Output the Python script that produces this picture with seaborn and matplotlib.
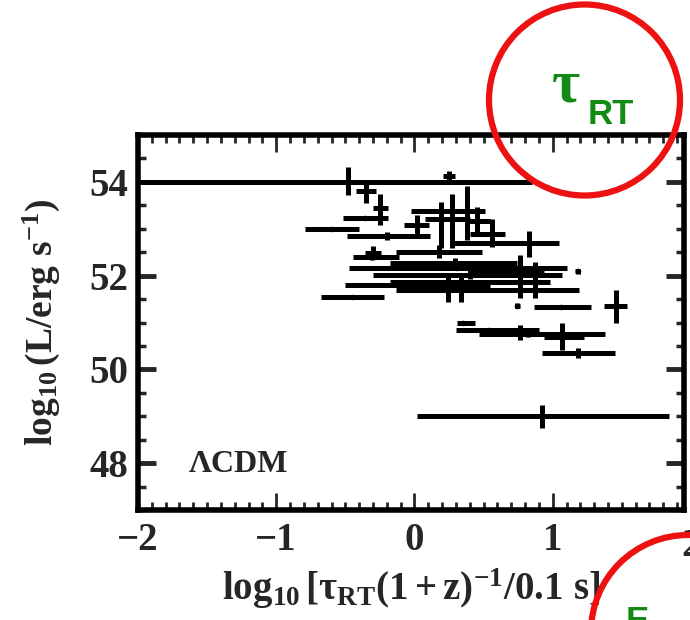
import matplotlib
matplotlib.use("Agg")
import matplotlib.pyplot as plt
import matplotlib.transforms as mtransforms
from matplotlib.patches import Circle
import seaborn as sns
import numpy as np
import pandas as pd

# ---- data ----
x_val = [-0.48, 0.25, -0.35, -0.25, -0.36, -0.60, -0.20, 0.02, 0.195, 0.27,
         0.38, 0.45, 0.56, 0.83, 0.18, -0.30, -0.31, 0.29, 0.76, 0.87,
         0.31, 0.40, 0.24, 0.04, 0.34, -0.45, 1.18, 0.745, 1.06, 1.46,
         0.35, 0.54, 0.82, 0.76, 1.07, 1.18, 0.925]
y_val = [54.00, 54.12, 53.80, 53.44, 53.24, 52.99, 52.84, 53.09, 53.37, 53.20,
         53.37, 53.16, 52.88, 52.69, 52.51, 52.49, 52.39, 52.28, 52.13, 52.02,
         52.17, 52.02, 51.87, 51.81, 51.70, 51.55, 52.09, 51.36, 51.34, 51.36,
         50.99, 50.84, 50.76, 50.84, 50.69, 50.35, 49.00]
x_err_lo = [1.80, 0.04, 0.07, 0.05, 0.16, 0.195, 0.29, 0.094, 0.217, 0.195,
            0.12, 0.087, 0.16, 0.564, 0.31, 0.06, 0.137, 0.47, 0.36, 0.25,
            0.78, 0.70, 0.42, 0.54, 0.47, 0.224, 0.02, 0.02, 0.195, 0.087,
            0.043, 0.24, 0.35, 0.11, 0.13, 0.26, 0.91]
x_err_hi = [1.33, 0.04, 0.07, 0.06, 0.17, 0.20, 0.31, 0.087, 0.275, 0.13,
            0.13, 0.094, 0.094, 0.217, 0.31, 0.06, 0.20, 0.45, 0.18, 0.145,
            0.79, 0.67, 0.74, 0.51, 0.85, 0.23, 0.02, 0.02, 0.217, 0.08,
            0.087, 0.36, 0.56, 0.11, 0.16, 0.27, 0.92]
y_err_lo = [0.27, 0.11, 0.24, 0.36, 0.04, 0.04, 0.09, 0.24, 0.77, 0.60,
            0.60, 0.28, 0.26, 0.30, 0.13, 0.14, 0.05, 0.10, 0.60, 0.49,
            0.06, 0.10, 0.43, 0.06, 0.26, 0.04, 0.06, 0.06, 0.04, 0.36,
            0.04, 0.05, 0.07, 0.21, 0.28, 0.11, 0.26]
y_err_hi = [0.31, 0.11, 0.22, 0.30, 0.04, 0.04, 0.09, 0.21, 0.21, 0.54,
            0.54, 0.30, 0.32, 0.26, 0.15, 0.14, 0.05, 0.10, 0.32, 0.28,
            0.06, 0.10, 0.15, 0.06, 0.32, 0.04, 0.06, 0.06, 0.04, 0.34,
            0.04, 0.05, 0.07, 0.11, 0.30, 0.11, 0.24]

x_ticks = [-2, -1, 0, 1]
x_tick_labels = ["\u22122", "\u22121", "0", "1"]
y_ticks = [48, 50, 52, 54]
y_tick_labels = ["48", "50", "52", "54"]

df = pd.DataFrame({"x": x_val, "y": y_val})

# ---- style ----
sns.set_style("white")
plt.rcParams["font.family"] = ["Liberation Serif", "DejaVu Serif"]
plt.rcParams["font.weight"] = "bold"
plt.rcParams["mathtext.fontset"] = "custom"
plt.rcParams["mathtext.rm"] = "Liberation Serif:bold"
plt.rcParams["mathtext.it"] = "Liberation Serif:bold"
plt.rcParams["mathtext.bf"] = "Liberation Serif:bold"

fig = plt.figure(figsize=(6.9, 6.2), dpi=100)
ax = fig.add_axes([138 / 690, 1 - 510 / 620, 546 / 690, 375 / 620])

ax.errorbar(df["x"], df["y"], xerr=[x_err_lo, x_err_hi], yerr=[y_err_lo, y_err_hi],
            fmt="none", ecolor="black", elinewidth=3.6, capsize=0, zorder=2)
sns.scatterplot(data=df, x="x", y="y", s=16, color="black", edgecolor="black",
                linewidth=0, ax=ax, zorder=3, legend=False)

ax.set_xlim(-2, 1.95)
ax.set_ylim(47, 55)

ax.set_xticks(x_ticks)
ax.set_xticklabels(x_tick_labels)
ax.set_xticks(np.arange(-2, 1.96, 0.1), minor=True)
ax.set_yticks(y_ticks)
ax.set_yticklabels(y_tick_labels)
ax.set_yticks(np.arange(47, 55.01, 0.5), minor=True)

for s in ax.spines.values():
    s.set_linewidth(4)
    s.set_color("black")

ax.tick_params(axis="x", which="major", direction="in", length=12, width=2,
               top=True, bottom=True, labelsize=28, pad=9)
ax.tick_params(axis="x", which="minor", direction="in", length=6, width=2,
               top=True, bottom=True)
ax.tick_params(axis="y", which="major", direction="in", length=13, width=3.5,
               left=True, right=True, labelsize=28, pad=7)
ax.tick_params(axis="y", which="minor", direction="in", length=6, width=2.5,
               left=True, right=True)
for lab in ax.get_xticklabels() + ax.get_yticklabels():
    lab.set_fontweight("bold")

# "2" label at the right edge (just outside the view limits), cut by the image edge as in the reference
trans2 = mtransforms.offset_copy(ax.get_xaxis_transform(), fig=fig, y=-13, units="points")
ax.text(2.0, 0, "2", transform=trans2, ha="center", va="top", fontsize=28,
        fontweight="bold", clip_on=False)

ax.set_xlabel(r"$\log_{10}[\tau_{\rm RT}(1+z)^{-1}/0.1\ {\rm s}]$", fontsize=28)
ax.xaxis.set_label_coords(0.5, -0.15)
ax.set_ylabel(r"$\log_{10}(L/{\rm erg\ s}^{-1})$", fontsize=27)
ax.yaxis.set_label_coords(-0.14, 0.5)

ax.text(-1.27, 47.97, "\u039bCDM", ha="center", va="center", fontsize=23,
        fontweight="bold")

# ---- annotations (red circles, green label) ----
t_in = fig.dpi_scale_trans
fig.add_artist(Circle((5.845, 6.2 - 1.0), 0.955, transform=t_in, fill=False,
                      edgecolor="#ee1111", linewidth=4.5, zorder=10))
fig.add_artist(Circle((6.88, 6.2 - 6.32), 0.97, transform=t_in, fill=False,
                      edgecolor="#ee1111", linewidth=4.5, zorder=10))
fig.text(566 / 690, 1 - 84 / 620, r"$\tau$", color="#138a13", fontsize=44,
         ha="center", va="center", family=["DejaVu Serif"], zorder=11)
fig.text(611 / 690, 1 - 114 / 620, "RT", color="#138a13", fontsize=25,
         ha="center", va="center", family=["Liberation Sans"], fontweight="bold",
         zorder=11)
fig.text(626 / 690, 1 - 605 / 620, "E", color="#138a13", fontsize=25,
         ha="left", va="top", family=["Liberation Sans"], fontweight="bold",
         zorder=11)

fig.savefig("out.png", dpi=100)
